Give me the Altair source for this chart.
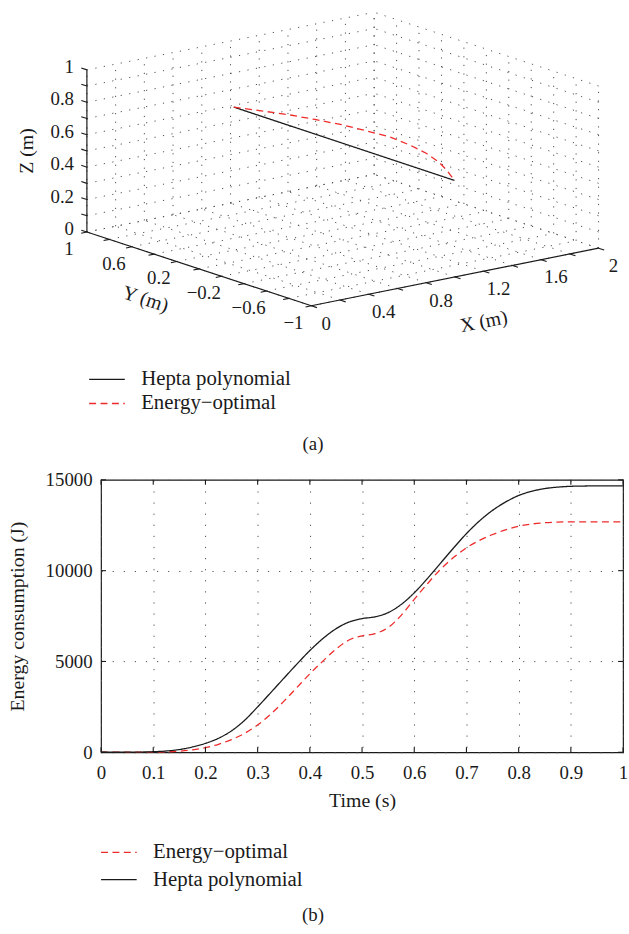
import numpy as np
import pandas as pd
import altair as alt

FONT = "Liberation Serif"
INK = "#1a1a1a"
RED = "#ee2b2b"
GRID = "#4d4d4d"

NAME_HEPTA = "Hepta polynomial"
NAME_OPT = "Energy\u2212optimal"

# ---------------- (b) energy consumption ----------------
TIME = [0.0, 0.025, 0.05, 0.075, 0.1, 0.125, 0.15, 0.175, 0.2, 0.225, 0.25, 0.275, 0.3,
        0.325, 0.35, 0.375, 0.4, 0.425, 0.45, 0.475, 0.5, 0.525, 0.55, 0.575, 0.6,
        0.625, 0.65, 0.675, 0.7, 0.725, 0.75, 0.775, 0.8, 0.825, 0.85, 0.875, 0.9,
        0.925, 0.95, 0.975, 1.0]
E_HEPTA = [0, 0, 2, 10, 30, 70, 150, 290, 490, 770, 1180, 1760, 2500,
           3280, 4070, 4850, 5600, 6260, 6800, 7170, 7360, 7460, 7690, 8140, 8780,
           9560, 10400, 11240, 12040, 12740, 13320, 13780, 14140, 14370, 14520, 14600, 14645,
           14660, 14668, 14670, 14670]
E_OPT = [0, 0, 0, 1, 5, 22, 60, 130, 250, 440, 700, 1040, 1500,
         2100, 2800, 3560, 4320, 5020, 5680, 6180, 6410, 6530, 6870, 7540, 8420,
         9270, 10060, 10720, 11260, 11670, 11990, 12250, 12450, 12570, 12640, 12675, 12690,
         12690, 12690, 12690, 12690]
B_X_TICKS = [0, 0.1, 0.2, 0.3, 0.4, 0.5, 0.6, 0.7, 0.8, 0.9, 1.0]
B_Y_TICKS = [0, 5000, 10000, 15000]

# ---------------- (a) 3D trajectories ----------------
HEPTA_X = [0.632, 1.387]
HEPTA_Y = [0.5, -0.5]
HEPTA_Z = [0.772, 0.413]
OPT_X = [0.632, 0.720, 0.815, 0.910, 1.005, 1.087, 1.170, 1.238, 1.292, 1.333, 1.360, 1.387]
OPT_Y = [0.5, 0.383, 0.258, 0.132, 0.006, -0.101, -0.212, -0.302, -0.374, -0.428, -0.464, -0.5]
OPT_Z = [0.772, 0.761, 0.749, 0.730, 0.708, 0.681, 0.652, 0.610, 0.567, 0.521, 0.474, 0.413]

A_X_TICKS = [0.0, 0.2, 0.4, 0.6, 0.8, 1.0, 1.2, 1.4, 1.6, 1.8, 2.0]
A_Y_TICKS = [-1.0, -0.8, -0.6, -0.4, -0.2, 0.0, 0.2, 0.4, 0.6, 0.8, 1.0]
A_Z_TICKS = [0.0, 0.1, 0.2, 0.3, 0.4, 0.5, 0.6, 0.7, 0.8, 0.9, 1.0]
A_X_LABELS = ["0", "0.4", "0.8", "1.2", "1.6", "2"]
A_X_LABEL_VALUES = [0.0, 0.4, 0.8, 1.2, 1.6, 2.0]
A_Y_LABELS = ["1", "0.6", "0.2", "\u22120.2", "\u22120.6", "\u22121"]
A_Y_LABEL_VALUES = [1.0, 0.6, 0.2, -0.2, -0.6, -1.0]
A_Z_LABELS = ["0", "0.2", "0.4", "0.6", "0.8", "1"]
A_Z_LABEL_VALUES = [0.0, 0.2, 0.4, 0.6, 0.8, 1.0]

# ---------------- view (orthographic, az = -38, el = 30) ----------------
AZ, EL = np.deg2rad(38.0), np.deg2rad(30.0)
H_SCALE, V_SCALE = 368.0, 189.0
CX, CY = 345.0, 155.1
TOP_W, TOP_H = 527, 459
PLOT_LEFT = 101


def project(x, y, z):
    x = np.asarray(x, float)
    y = np.asarray(y, float)
    z = np.asarray(z, float)
    xn, yn, zn = (x - 1.0) / 2.0, y / 2.0, z - 0.5
    sx = CX + H_SCALE * (xn * np.cos(AZ) - yn * np.sin(AZ))
    depth = xn * np.sin(AZ) + yn * np.cos(AZ)
    sy = CY - V_SCALE * (zn * np.cos(EL) + depth * np.sin(EL))
    return sx, sy


def segments(pairs):
    p0 = np.array([p[0] for p in pairs], float)
    p1 = np.array([p[1] for p in pairs], float)
    sx, sy = project(p0[:, 0], p0[:, 1], p0[:, 2])
    sx2, sy2 = project(p1[:, 0], p1[:, 1], p1[:, 2])
    return pd.DataFrame({"sx": sx, "sy": sy, "sx2": sx2, "sy2": sy2})


grid_pairs = []
for xv in A_X_TICKS:
    grid_pairs.append(((xv, -1, 0), (xv, 1, 0)))
    grid_pairs.append(((xv, 1, 0), (xv, 1, 1)))
for yv in A_Y_TICKS:
    grid_pairs.append(((0, yv, 0), (2, yv, 0)))
    grid_pairs.append(((2, yv, 0), (2, yv, 1)))
for zv in A_Z_TICKS:
    grid_pairs.append(((0, 1, zv), (2, 1, zv)))
    grid_pairs.append(((2, -1, zv), (2, 1, zv)))
grid_df = segments(grid_pairs)

axis_df = segments([((0, -1, 0), (2, -1, 0)), ((0, -1, 0), (0, 1, 0)), ((0, 1, 0), (0, 1, 1))])
TL = 0.05
tick_pairs = [((xv, -1, 0), (xv, -1 - TL, 0)) for xv in A_X_TICKS]
tick_pairs += [((0, yv, 0), (-0.8 * TL, yv, 0)) for yv in A_Y_TICKS]
tick_pairs += [((0, 1, zv), (0, 1 + TL, zv)) for zv in A_Z_TICKS]
tick_df = segments(tick_pairs)


def label_frame(vals, texts, which):
    v = np.array(vals, float)
    if which == "x":
        sx, sy = project(v, -1.0, 0.0)
    elif which == "y":
        sx, sy = project(0.0, v, 0.0)
    else:
        sx, sy = project(0.0, 1.0, v)
    return pd.DataFrame({"sx": np.broadcast_to(sx, v.shape), "sy": np.broadcast_to(sy, v.shape), "label": texts})


xlab_df = label_frame(A_X_LABEL_VALUES, A_X_LABELS, "x")
ylab_df = label_frame(A_Y_LABEL_VALUES, A_Y_LABELS, "y")
zlab_df = label_frame(A_Z_LABEL_VALUES, A_Z_LABELS, "z")

hx, hy = project(HEPTA_X, HEPTA_Y, HEPTA_Z)
ox, oy = project(OPT_X, OPT_Y, OPT_Z)
traj_df = pd.concat([
    pd.DataFrame({"sx": hx, "sy": hy, "series": NAME_HEPTA, "idx": range(len(hx))}),
    pd.DataFrame({"sx": ox, "sy": oy, "series": NAME_OPT, "idx": range(len(ox))}),
], ignore_index=True)

SX = alt.Scale(domain=[PLOT_LEFT, PLOT_LEFT + TOP_W], nice=False, zero=False)
SY = alt.Scale(domain=[TOP_H, 0], nice=False, zero=False)
X = alt.X("sx:Q", scale=SX, axis=None)
Y = alt.Y("sy:Q", scale=SY, axis=None)

anchor = alt.Chart(pd.DataFrame({"sx": [0], "sx2": [629], "sy": [0], "sy2": [TOP_H]})).mark_rect(
    opacity=0).encode(x=X, x2="sx2:Q", y=Y, y2="sy2:Q")
grid3d = alt.Chart(grid_df).mark_rule(color=GRID, strokeWidth=1, strokeDash=[1.2, 7.5]).encode(
    x=X, y=Y, x2="sx2:Q", y2="sy2:Q")
axes3d = alt.Chart(axis_df).mark_rule(color=INK, strokeWidth=1.2).encode(x=X, y=Y, x2="sx2:Q", y2="sy2:Q")
ticks3d = alt.Chart(tick_df).mark_rule(color=INK, strokeWidth=1.1).encode(x=X, y=Y, x2="sx2:Q", y2="sy2:Q")

txt = dict(font=FONT, fontSize=19, color=INK, baseline="middle")
xlab = alt.Chart(xlab_df).mark_text(align="center", dx=15, dy=18, **txt).encode(x=X, y=Y, text="label:N")
ylab = alt.Chart(ylab_df).mark_text(align="center", dx=-18, dy=17, **txt).encode(x=X, y=Y, text="label:N")
zlab = alt.Chart(zlab_df).mark_text(align="right", dx=-13, dy=-3, **txt).encode(x=X, y=Y, text="label:N")

tx, ty = project([1.0, 0.0, 0.0], [-1.0, 0.0, 1.0], [0.0, 0.0, 0.5])
ttl = dict(font=FONT, fontSize=20, color=INK, align="center", baseline="middle")
xt = alt.Chart(pd.DataFrame({"sx": [tx[0]], "sy": [ty[0]], "t": ["X (m)"]})).mark_text(
    angle=349, dx=20, dy=50, **ttl).encode(x=X, y=Y, text="t:N")
yt = alt.Chart(pd.DataFrame({"sx": [tx[1]], "sy": [ty[1]], "t": ["Y (m)"]})).mark_text(
    angle=18, dx=-42, dy=46, **ttl).encode(x=X, y=Y, text="t:N")
zt = alt.Chart(pd.DataFrame({"sx": [tx[2]], "sy": [ty[2]], "t": ["Z (m)"]})).mark_text(
    angle=270, dx=0, dy=-60, **ttl).encode(x=X, y=Y, text="t:N")

leg_common = dict(symbolType="M-2,0H2", symbolSize=324, symbolStrokeWidth=1.3,
                  labelFont=FONT, labelFontSize=21, labelColor=INK, labelOffset=24,
                  padding=0, orient="none")
legA = alt.Legend(legendX=-4.5, legendY=367, rowPadding=2.4, **leg_common)
traj = alt.Chart(traj_df).mark_line(strokeWidth=1.3).encode(
    x=X, y=Y, order="idx:Q",
    color=alt.Color("series:N", title=None, legend=legA,
                    scale=alt.Scale(domain=[NAME_HEPTA, NAME_OPT], range=[INK, RED])),
    strokeDash=alt.StrokeDash("series:N", title=None, legend=legA,
                              scale=alt.Scale(domain=[NAME_HEPTA, NAME_OPT], range=[[1, 0], [7, 4.5]])),
)
cap_a = alt.Chart(pd.DataFrame({"t": ["(a)"]})).mark_text(font=FONT, fontSize=19, color=INK).encode(
    text="t:N", x=alt.value(315 - PLOT_LEFT), y=alt.value(443))

top = alt.layer(anchor, grid3d, axes3d, ticks3d, xlab, ylab, zlab, xt, yt, zt, traj, cap_a).properties(
    width=TOP_W, height=TOP_H, view=alt.ViewBackground(stroke="transparent"))

# ---------------- bottom chart ----------------
B_W, B_H = 527, 275
energy_df = pd.concat([
    pd.DataFrame({"t": TIME, "E": E_OPT, "series": NAME_OPT}),
    pd.DataFrame({"t": TIME, "E": E_HEPTA, "series": NAME_HEPTA}),
], ignore_index=True)

BX = alt.Scale(domain=[0, 1], nice=False, zero=False)
BY = alt.Scale(domain=[0, 15000], nice=False)
x_axis = alt.Axis(values=B_X_TICKS, format="~g", labelFont=FONT, labelFontSize=19, labelColor=INK,
                  ticks=False, tickSize=0, domain=False, grid=True, gridDash=[1.2, 10], gridColor=GRID,
                  gridWidth=1, labelPadding=11, labelFlush=False, title="Time (s)", titleFont=FONT,
                  titleFontSize=20, titleFontWeight="normal", titleColor=INK, titlePadding=9)
y_axis = alt.Axis(values=B_Y_TICKS, format="d", labelFont=FONT, labelFontSize=19, labelColor=INK,
                  ticks=False, tickSize=0, domain=False, grid=True, gridDash=[1.2, 10], gridColor=GRID,
                  gridWidth=1, labelPadding=9, labelFlush=False, title="Energy consumption (J)",
                  titleFont=FONT, titleFontSize=20, titleFontWeight="normal", titleColor=INK,
                  titlePadding=18)

legB = alt.Legend(legendX=7.5, legendY=365.5, rowPadding=5.6, **leg_common)
lines = alt.Chart(energy_df).mark_line(strokeWidth=1.3, interpolate="monotone").encode(
    x=alt.X("t:Q", scale=BX, axis=x_axis),
    y=alt.Y("E:Q", scale=BY, axis=y_axis),
    color=alt.Color("series:N", title=None, legend=legB,
                    scale=alt.Scale(domain=[NAME_OPT, NAME_HEPTA], range=[RED, INK])),
    strokeDash=alt.StrokeDash("series:N", title=None, legend=legB,
                              scale=alt.Scale(domain=[NAME_OPT, NAME_HEPTA], range=[[7, 4.5], [1, 0]])),
)
xt_df = pd.DataFrame({"t": B_X_TICKS})
yt_df = pd.DataFrame({"E": B_Y_TICKS})
tk = dict(color=INK, strokeWidth=1.1)
tick_bot = alt.Chart(xt_df).mark_rule(**tk).encode(x=alt.X("t:Q", scale=BX), y=alt.value(B_H), y2=alt.value(B_H - 5))
tick_top = alt.Chart(xt_df).mark_rule(**tk).encode(x=alt.X("t:Q", scale=BX), y=alt.value(0), y2=alt.value(5))
tick_l = alt.Chart(yt_df).mark_rule(**tk).encode(y=alt.Y("E:Q", scale=BY), x=alt.value(0), x2=alt.value(5))
tick_r = alt.Chart(yt_df).mark_rule(**tk).encode(y=alt.Y("E:Q", scale=BY), x=alt.value(B_W), x2=alt.value(B_W - 5))
cap_b = alt.Chart(pd.DataFrame({"t": ["(b)"]})).mark_text(font=FONT, fontSize=19, color=INK).encode(
    text="t:N", x=alt.value(315 - PLOT_LEFT), y=alt.value(439))

bottom = alt.layer(lines, tick_bot, tick_top, tick_l, tick_r, cap_b).properties(
    width=B_W, height=B_H, view=alt.ViewBackground(stroke=INK, strokeWidth=1.2))

chart = alt.vconcat(top, bottom, spacing=20, bounds="flush").resolve_scale(
    x="independent", y="independent", color="independent", strokeDash="independent"
).resolve_legend(color="independent", strokeDash="independent").properties(
    padding=0, background="white"
).configure_view(stroke="transparent")

chart.save("out.html", embed_options={"renderer": "svg", "actions": False})
